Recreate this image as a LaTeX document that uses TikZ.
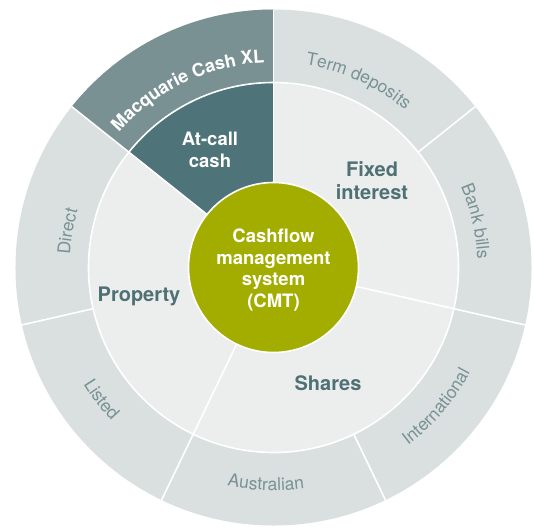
\documentclass[tikz,border=0pt]{standalone}
\usepackage{fontspec}
\setmainfont{TeX Gyre Heros}
\usetikzlibrary{decorations.text}
\definecolor{outerring}{RGB}{218,223,223}
\definecolor{innerring}{RGB}{236,238,237}
\definecolor{cashxl}{RGB}{122,145,148}
\definecolor{atcallfill}{RGB}{78,116,121}
\definecolor{cmtfill}{RGB}{163,173,0}
\definecolor{labeltext}{RGB}{79,112,117}
\definecolor{outertext}{RGB}{120,146,150}
\newcommand{\ringfont}{\fontsize{17.5}{20}\selectfont}
\newcommand{\xlfont}{\fontsize{18}{20}\selectfont\bfseries}

\tikzset{
    sep/.style={draw=white, line width=1.6pt},
    assetlabel/.style={font=\fontsize{20}{23}\selectfont\bfseries, text=labeltext, align=center},
    outerlabel/.style={decorate, decoration={text along path, text align=center,
        text color=outertext, text={|\ringfont|#1}}}
}

\begin{document}
\begin{tikzpicture}[x=1pt, y=1pt]
    \useasboundingbox (-273.5,-260.5) rectangle (260.5,267.5);

    % Outer ring
    \fill[outerring] (0,0) circle[radius=258];
    \fill[cashxl] (0,0) -- (90:258) arc[start angle=90, end angle=141.43, radius=258] -- cycle;

    % Inner ring
    \fill[innerring] (0,0) circle[radius=185];
    \fill[atcallfill] (0,0) -- (90:185) arc[start angle=90, end angle=141.43, radius=185] -- cycle;

    % Separators
    \foreach \a in {90,141.43,192.86,244.29,295.71,347.14,38.57}
        \draw[sep] (\a:185) -- (\a:258);
    \foreach \a in {90,141.43,244.29,347.14}
        \draw[sep] (\a:85) -- (\a:185);
    \draw[sep] (0,0) circle[radius=185];

    % Centre
    \fill[cmtfill, draw=white, line width=1.6pt] (0,0) circle[radius=85];
    \node[font=\fontsize{18.5}{21.5}\selectfont\bfseries, text=white, align=center]
          (cmt) at (0,-2.5) {Cashflow\\management\\system\\(CMT)};

    % Asset classes
    \node[font=\fontsize{18.5}{22.5}\selectfont\bfseries, text=white, align=center]
          (atcall) at (-63.5,117.5) {At-call\\cash};
    \node[assetlabel] (fixed) at (98.5,86.5) {Fixed\\interest};
    \node[assetlabel, anchor=base] (property) at (-134.5,-34) {Property};
    \node[assetlabel, anchor=base] (shares) at (54.5,-123) {Shares};

    % Outer labels
    \path[decorate, decoration={text along path, text align=center, text color=white,
          text={|\xlfont|Macquarie Cash XL}}]
          (150.71:205) arc[start angle=150.71, end angle=80.71, radius=205];
    \path[outerlabel={Term deposits}] (100.5:205) arc[start angle=100.5, end angle=30.5, radius=205];
    \path[outerlabel={Bank bills}] (47.8:204) arc[start angle=47.8, end angle=-22.2, radius=204];
    \path[outerlabel={Direct}] (205:204) arc[start angle=205, end angle=135, radius=204];
    \path[outerlabel={Listed}] (182.5:223) arc[start angle=182.5, end angle=252.5, radius=223];
    \path[outerlabel={Australian}] (233:223) arc[start angle=233, end angle=303, radius=223];
    \path[outerlabel={International}] (284.5:223) arc[start angle=284.5, end angle=354.5, radius=223];
\end{tikzpicture}
\end{document}
